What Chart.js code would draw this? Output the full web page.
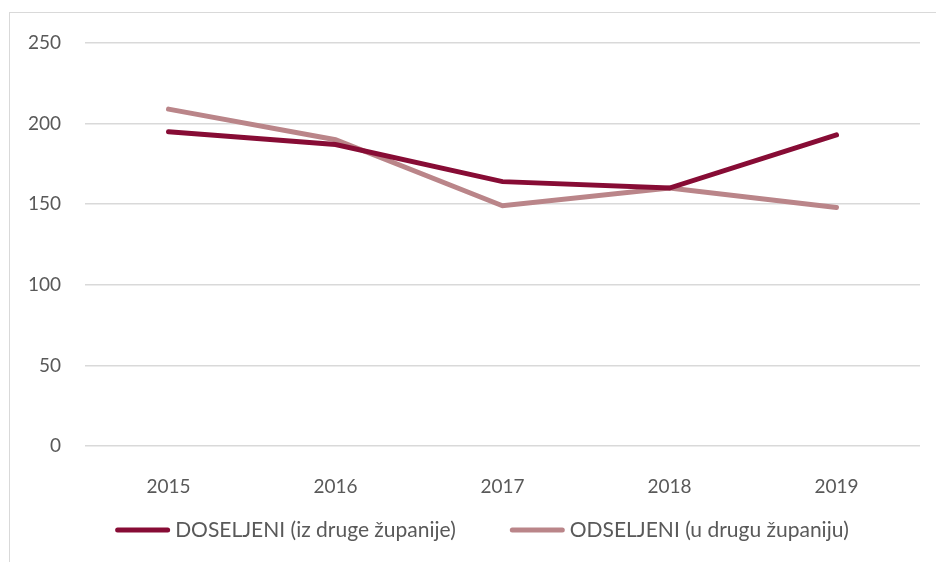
<!DOCTYPE html>
<html>
<head>
<meta charset="utf-8">
<script src="https://cdn.jsdelivr.net/npm/chart.js@4/dist/chart.umd.min.js"></script>
<style>
  html, body { margin: 0; padding: 0; background: #fff; }
  #wrap { position: relative; width: 936px; height: 562px; overflow: hidden; }
  #frame { position: absolute; left: 9px; top: 12px; width: 1000px; height: 600px; border: 1px solid #d9d9d9; }
  canvas { position: absolute; left: 0; top: 0; }
</style>
</head>
<body>
<div id="wrap">
  <div id="frame"></div>
  <canvas id="chart" width="936" height="562"></canvas>
</div>
<script>
const years = ['2015', '2016', '2017', '2018', '2019'];
const doseljeni = [195, 187, 164, 160, 193];
const odseljeni = [209, 190, 149, 160, 148];
const yTicks = [0, 50, 100, 150, 200, 250];

const textColor = '#595959';
const gridColor = '#d9d9d9';
const fontFamily = 'Lato, "Open Sans", sans-serif';

// legend drawn by hand: the built-in one ties item spacing to vertical padding
const bottomLegend = {
    id: 'bottomLegend',
    afterDraw(chart) {
        const c = chart.ctx;
        const lineLen = 55, textGap = 5, itemGap = 54;
        const y = 530, centerX = 482;
        c.save();
        c.font = '21px ' + fontFamily;
        c.textBaseline = 'middle';
        c.textAlign = 'left';
        const items = chart.data.datasets.map(ds => ({
            text: ds.label, color: ds.borderColor, w: c.measureText(ds.label).width
        }));
        let total = items.reduce((s, it) => s + lineLen + textGap + it.w, 0) + itemGap * (items.length - 1);
        let x = centerX - total / 2;
        items.forEach(it => {
            c.strokeStyle = it.color;
            c.lineWidth = 5;
            c.lineCap = 'round';
            c.beginPath();
            c.moveTo(x + 2.5, y);
            c.lineTo(x + lineLen - 2.5, y);
            c.stroke();
            c.fillStyle = textColor;
            c.fillText(it.text, x + lineLen + textGap, y);
            x += lineLen + textGap + it.w + itemGap;
        });
        c.restore();
    }
};

let ctx = document.getElementById('chart').getContext('2d');

let chart = new Chart(ctx, {
    type: 'line',
    data: {
        labels: years,
        datasets: [{
            label: 'DOSELJENI (iz druge županije)',
            data: doseljeni,
            borderColor: '#870C35',
            backgroundColor: '#870C35',
            borderWidth: 5,
            borderCapStyle: 'round',
            pointRadius: 0,
            tension: 0
        }, {
            label: 'ODSELJENI (u drugu županiju)',
            data: odseljeni,
            borderColor: '#BA8589',
            backgroundColor: '#BA8589',
            borderWidth: 5,
            borderCapStyle: 'round',
            pointRadius: 0,
            tension: 0
        }]
    },
    plugins: [bottomLegend],
    options: {
        responsive: false,
        animation: false,
        layout: { padding: { left: 0, right: 16, top: 43, bottom: 66 } },
        plugins: {
            tooltip: { enabled: false },
            legend: { display: false }
        },
        scales: {
            x: {
                offset: true,
                grid: { display: false },
                border: { display: false },
                ticks: { color: textColor, font: { family: fontFamily, size: 19 }, padding: 21 },
                afterFit: (s) => { s.height = 50; }
            },
            y: {
                min: 0,
                max: 250,
                afterBuildTicks: (s) => { s.ticks = yTicks.map(v => ({ value: v })); },
                grid: { color: gridColor, lineWidth: 1.5, drawTicks: false },
                border: { display: false },
                ticks: { color: textColor, font: { family: fontFamily, size: 19 }, padding: 24 },
                afterFit: (s) => { s.width = 85; }
            }
        }
    }
});
</script>
</body>
</html>
